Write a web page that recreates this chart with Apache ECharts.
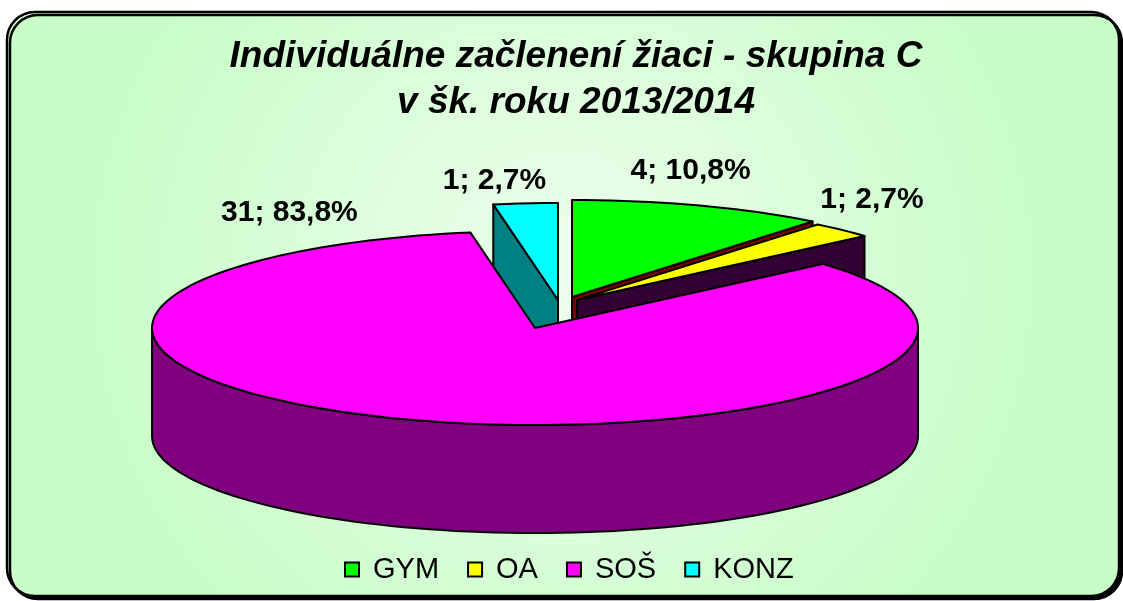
<!DOCTYPE html>
<html>
<head>
<meta charset="utf-8">
<script src="https://cdn.jsdelivr.net/npm/echarts@6/dist/echarts.min.js"></script>
<style>
  html, body { margin: 0; padding: 0; background: #fff; }
  #chart { width: 1123px; height: 601px; }
</style>
</head>
<body>
<div id="chart"></div>
<script>
// údaje
const categories = ['GYM', 'OA', 'SOŠ', 'KONZ'];
const counts = [4, 1, 31, 1];
const titleLines = ['Individuálne začlenení žiaci - skupina C', 'v šk. roku 2013/2014'];

// vzhľad
const topColors = ['#00ff00', '#ffff00', '#ff00ff', '#00ffff'];
const sideColors = ['#800000', '#330033', '#800080', '#008080'];
const shifts = [[10, -6], [15, -3], [-27, 25], [-4, -3]];      // vysunutie výsekov
const labelShift = [[-9, -35], [30, -30], [-118, -207], [-31, -23]];
const zOrder = [2, 3, 5, 4];

const font = '"Liberation Sans", Arial, sans-serif';
const CX = 562, CY = 303, RX = 383, RY = 97, DEPTH = 108;
const RAD = Math.PI / 180;

const total = counts.reduce((a, b) => a + b, 0);
const startAngles = [];
let acc = 0;
counts.forEach(v => { startAngles.push(acc / total * 360); acc += v; });

function pt(cx, cy, deg, dy) {
    return [cx + RX * Math.sin(deg * RAD), cy - RY * Math.cos(deg * RAD) + (dy || 0)];
}
function arc(cx, cy, a0, a1, dy) {
    const pts = [];
    const n = Math.max(2, Math.ceil(Math.abs(a1 - a0) / 2));
    for (let k = 0; k <= n; k++) pts.push(pt(cx, cy, a0 + (a1 - a0) * k / n, dy));
    return pts;
}
function pctText(v) {
    return v + '; ' + (v / total * 100).toFixed(1).replace('.', ',') + '%';
}

function makeRender(i) {
    return function (params, api) {
        const v = api.value(0);
        const a0 = startAngles[i];
        const a1 = a0 + v / total * 360;
        const cx = CX + shifts[i][0], cy = CY + shifts[i][1];
        const edge = { stroke: '#000', lineWidth: 2, lineJoin: 'round' };
        const children = [];

        // bočná stena (viditeľná len predná polovica)
        const s0 = Math.max(a0, 90), s1 = Math.min(a1, 270);
        if (s1 > s0) {
            children.push({
                type: 'polygon',
                shape: { points: arc(cx, cy, s0, s1, 0).concat(arc(cx, cy, s1, s0, DEPTH)) },
                style: Object.assign({ fill: sideColors[i] }, edge)
            });
        }
        // rezy výseku
        const face = a => ({
            type: 'polygon',
            shape: { points: [[cx, cy], pt(cx, cy, a, 0), pt(cx, cy, a, DEPTH), [cx, cy + DEPTH]] },
            style: Object.assign({ fill: sideColors[i] }, edge)
        });
        if (Math.sin(a0 * RAD) < -0.01) children.push(face(a0));
        if (Math.sin(a1 * RAD) > 0.01) children.push(face(a1));

        // vrch
        children.push({
            type: 'polygon',
            shape: { points: [[cx, cy]].concat(arc(cx, cy, a0, a1, 0)) },
            style: Object.assign({ fill: topColors[i] }, edge)
        });

        // popis
        const lp = pt(cx, cy, (a0 + a1) / 2, 0);
        children.push({
            type: 'text',
            x: lp[0] + labelShift[i][0],
            y: lp[1] + labelShift[i][1],
            style: {
                text: pctText(v),
                font: 'bold 30px ' + font,
                fill: '#000',
                align: 'center',
                verticalAlign: 'middle'
            }
        });
        return { type: 'group', children: children };
    };
}

const chart = echarts.init(document.getElementById('chart'));

const option = {
    animation: false,
    graphic: [{
        type: 'rect',
        z: -10,
        silent: true,
        shape: { x: 7, y: 12, width: 1112, height: 584, r: 28 },
        style: {
            fill: {
                type: 'radial', x: 0.5, y: 0.45, r: 0.8,
                colorStops: [{ offset: 0, color: '#eefeee' }, { offset: 1, color: '#c8fdc8' }]
            },
            stroke: '#000',
            lineWidth: 2.5,
            shadowColor: '#000',
            shadowOffsetX: 3,
            shadowOffsetY: 3
        }
    }],
    title: {
        text: titleLines.join('\n'),
        left: 571,
        top: 29,
        textAlign: 'center',
        textStyle: {
            fontFamily: font,
            fontSize: 37,
            fontWeight: 'bold',
            fontStyle: 'italic',
            color: '#000',
            lineHeight: 46
        }
    },
    legend: {
        data: categories,
        left: 339,
        top: 550,
        icon: 'rect',
        itemWidth: 14,
        itemHeight: 14,
        itemGap: 28,
        selectedMode: false,
        itemStyle: { borderColor: '#000', borderWidth: 2 },
        textStyle: { fontFamily: font, fontSize: 29, color: '#000', padding: [0, 0, 0, 9] }
    },
    series: categories.map((name, i) => ({
        type: 'custom',
        name: name,
        coordinateSystem: 'none',
        z: zOrder[i],
        silent: true,
        itemStyle: { color: topColors[i] },
        renderItem: makeRender(i),
        data: [[counts[i]]]
    }))
};

chart.setOption(option);
</script>
</body>
</html>
